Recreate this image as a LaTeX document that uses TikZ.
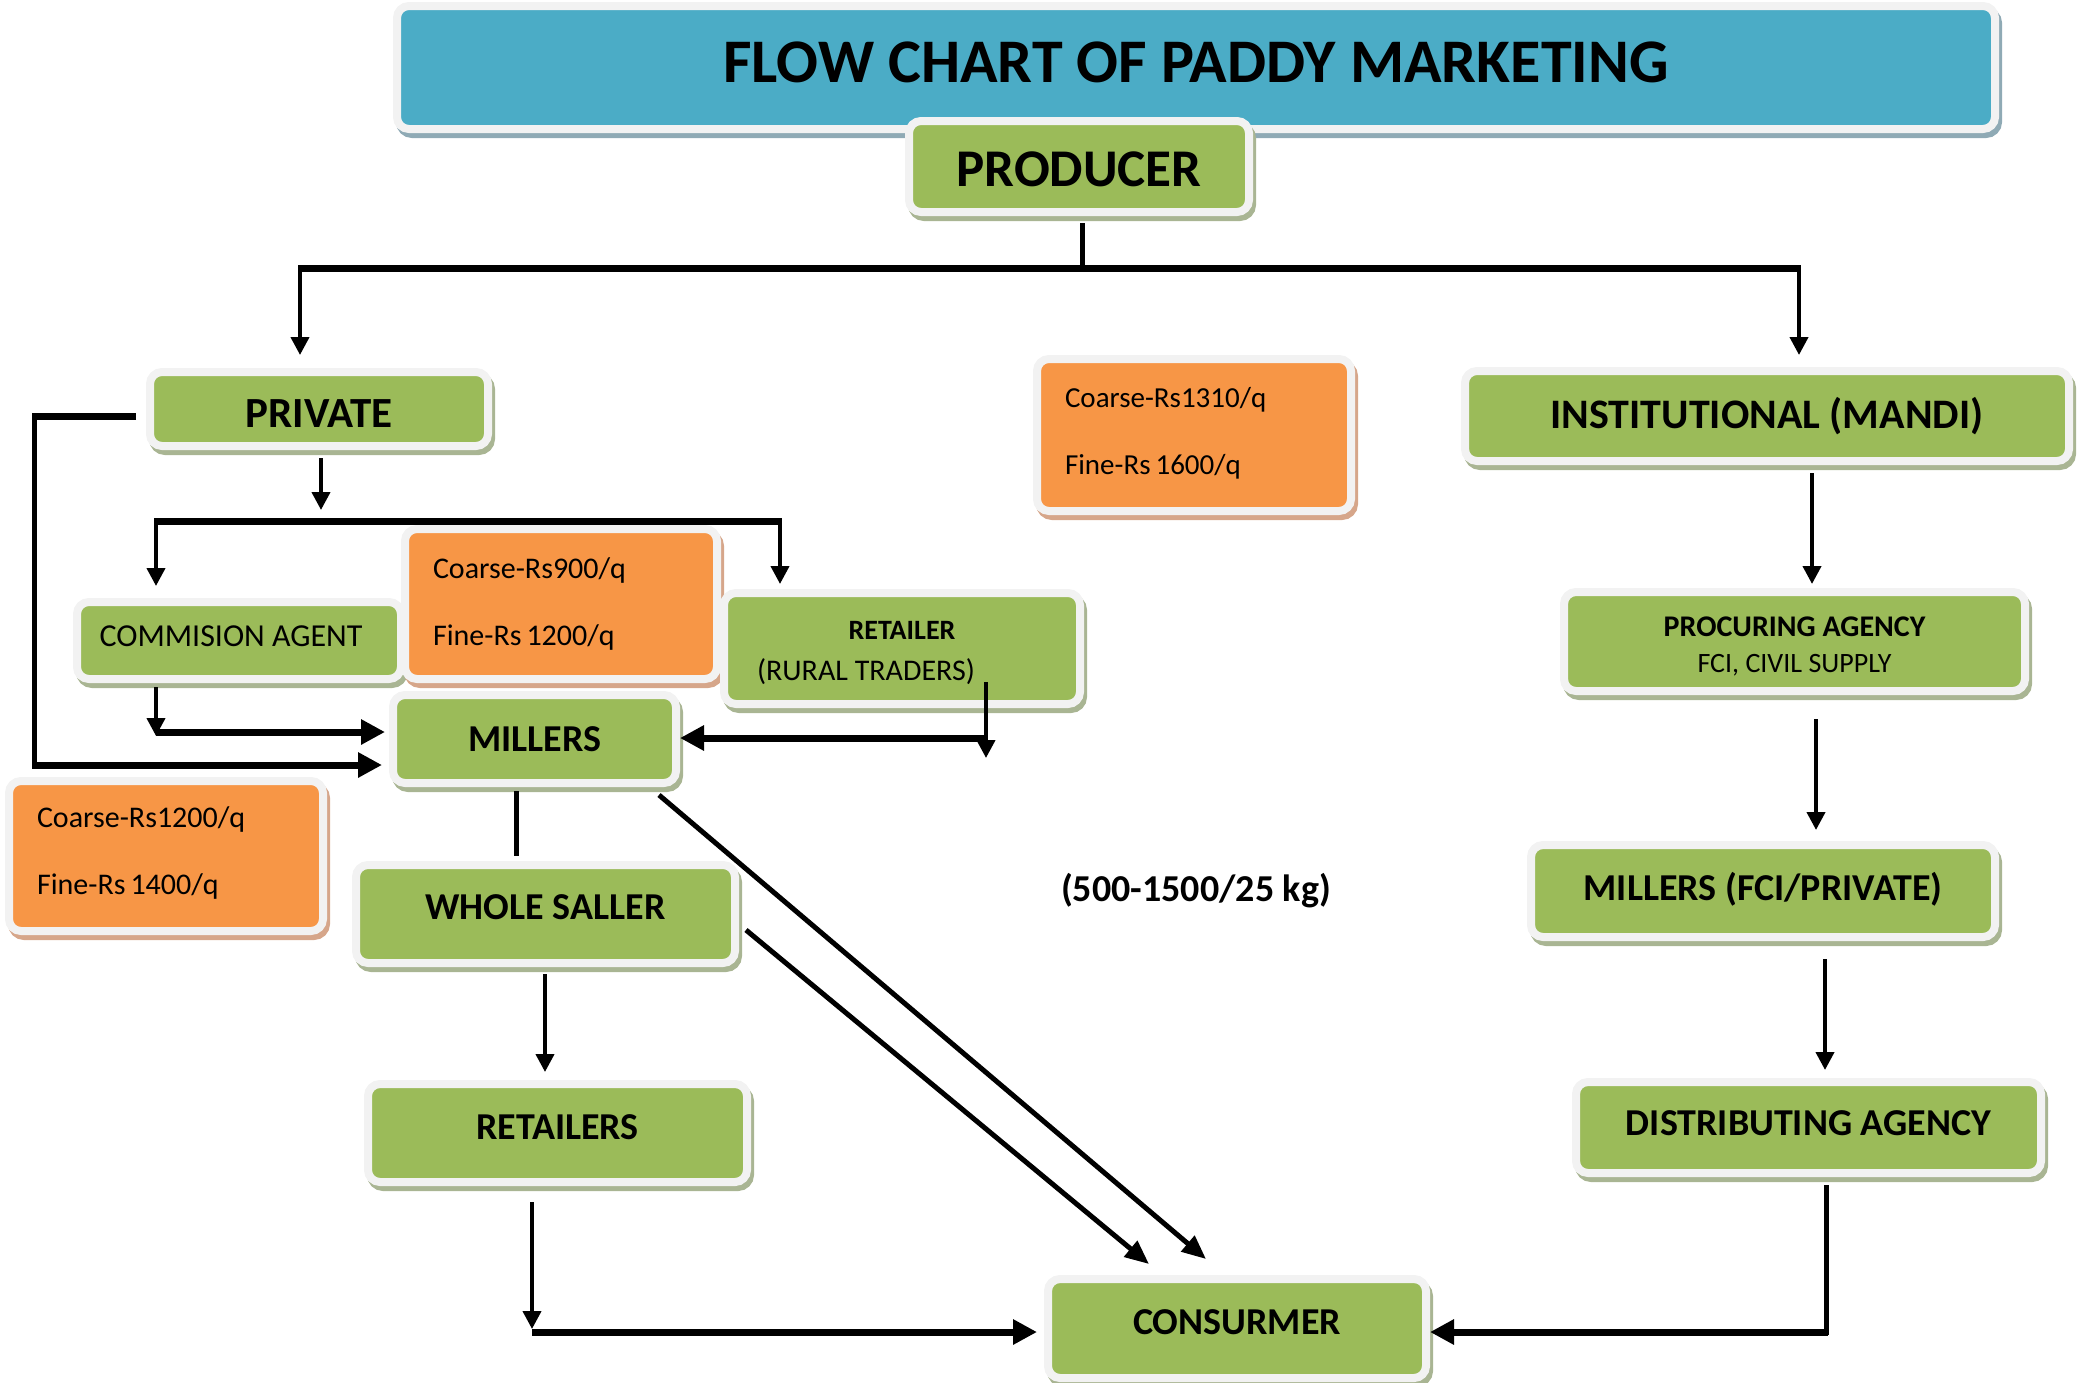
\documentclass[tikz,border=0pt]{standalone}
\usepackage{fontspec}
\setmainfont{Carlito}
\usetikzlibrary{arrows.meta,shadows}
\definecolor{gr}{HTML}{9BBB59}
\definecolor{grs}{HTML}{A9B593}
\definecolor{orr}{HTML}{F79646}
\definecolor{ors}{HTML}{D6A68A}
\definecolor{bl}{HTML}{4BACC6}
\definecolor{bls}{HTML}{8FAAB5}
\definecolor{wb}{HTML}{F2F2F2}
\newcommand\rbx[2]{\raisebox{#1}[\height][\depth]{#2}}
\begin{document}
\begin{tikzpicture}[x=1pt,y=-1pt,
  box/.style={rounded corners=12pt, draw=wb, line width=8pt, inner sep=0pt, align=center, text=black},
  shadowed/.style={general shadow={draw=#1, fill=#1, line width=8pt, shadow xshift=3pt, shadow yshift=-5pt}},
  gbox/.style={box, fill=gr, shadowed=grs},
  obox/.style={box, fill=orr, shadowed=ors, align=left},
  tbox/.style={box, fill=bl, shadowed=bls},
  fb/.style={font=\bfseries\fontsize{#1}{#1}\selectfont},
  fr/.style={font=\fontsize{#1}{67}\selectfont},
  lnw/.style={line width=4pt, draw=black},
  thickl/.style={line width=7pt, draw=black},
  arw/.style={-{Triangle[length=18pt,width=18pt]}},
  barw/.style={-{Triangle[length=24pt,width=24pt]}},
  darw/.style={-{Triangle[length=24pt,width=20pt]}}
]
\useasboundingbox (0,0) rectangle (2084,1382);

% boxes
\node[tbox, minimum width=1598pt, minimum height=123pt, fb=62] (title) at (1196,67.5) {\rbx{5pt}{FLOW CHART OF PADDY MARKETING}};
\node[gbox, minimum width=340pt, minimum height=91pt, fb=53] (producer) at (1079,166.5) {\rbx{-3pt}{PRODUCER}};
\node[gbox, minimum width=338pt, minimum height=74pt, fb=43] (private) at (319,409) {\rbx{-5pt}{PRIVATE}};
\node[obox, minimum width=314pt, minimum height=152pt, text width=258pt, fr=29] (price1310) at (1194,435) {\rbx{2pt}{Coarse-Rs1310/q}\\\rbx{2pt}{Fine-Rs\kern5pt1600/q}};
\node[gbox, minimum width=604pt, minimum height=90pt, fb=42] (institutional) at (1767,416) {INSTITUTIONAL (MANDI)};
\node[gbox, minimum width=324pt, minimum height=77pt, font=\fontsize{32}{32}\selectfont] (commission) at (239,640.5) {\rbx{4pt}{COMMISION AGENT}\hspace*{16pt}};
\node[obox, minimum width=312pt, minimum height=150pt, text width=256pt, fr=30] (price900) at (561,604) {Coarse-Rs900/q\\Fine-Rs\kern5pt1200/q};
\node[gbox, minimum width=356pt, minimum height=111pt, font=\fontsize{30}{40}\selectfont] (retailer) at (902,648.5)
  {{\bfseries\fontsize{28}{40}\selectfont \rbx{-4pt}{RETAILER}}\\\rbx{-5pt}{(RURAL TRADERS)}\hspace*{72pt}};
\node[gbox, minimum width=283pt, minimum height=88pt, fb=38] (millers) at (534.5,739) {MILLERS};
\node[gbox, minimum width=461pt, minimum height=99pt, font=\fontsize{28}{36}\selectfont] (procuring) at (1794.5,641.5)
  {{\bfseries\fontsize{30}{36}\selectfont \rbx{-5pt}{PROCURING AGENCY}}\\\rbx{-5pt}{FCI, CIVIL SUPPLY}};
\node[obox, minimum width=314pt, minimum height=150pt, text width=258pt, fr=30] (price1200) at (166,856) {\rbx{3pt}{Coarse-Rs1200/q}\\\rbx{3pt}{Fine-Rs\kern5pt1400/q}};
\node[gbox, minimum width=379pt, minimum height=98pt, fb=38] (wholesaler) at (545.5,914) {\rbx{7pt}{WHOLE SALLER}};
\node[gbox, minimum width=464pt, minimum height=92pt, fb=38] (millersfci) at (1763,891) {\rbx{2pt}{MILLERS (FCI/PRIVATE)}};
\node[gbox, minimum width=379pt, minimum height=98pt, fb=38] (retailers) at (557.5,1133) {\rbx{6pt}{RETAILERS}};
\node[gbox, minimum width=465pt, minimum height=91pt, fb=38] (distributing) at (1808.5,1127.5) {\rbx{4pt}{DISTRIBUTING AGENCY}};
\node[gbox, minimum width=378pt, minimum height=99pt, fb=38] (consumer) at (1237,1328.5) {\rbx{6pt}{CONSURMER}};
\node[fb=38, inner sep=0pt] (rate) at (1196,891) {(500-1500/25 kg)};

% top tree
\coordinate (j0) at (1082,268);
\coordinate (jl) at (300,268);
\coordinate (jr) at (1799,268);
\draw[lnw, line width=5pt, shorten <=7pt] (producer.south -| j0) -- (j0);
\draw[thickl] ([xshift=-2pt]jl) -- ([xshift=2pt]jr);
\draw[lnw, arw, shorten >=13pt] (jl) -- (jl |- private.north);
\draw[lnw, arw, shorten >=12pt] (jr) -- (jr |- institutional.north);

% private branch
\coordinate (j1) at (321,521);
\coordinate (j2l) at (156,521);
\coordinate (j2r) at (780,521);
\draw[lnw, arw, shorten <=8pt] (private.south -| j1) -- ([yshift=11pt]j1);
\draw[thickl] ([xshift=-2pt]j2l) -- ([xshift=2pt]j2r);
\draw[lnw, arw, shorten >=12pt] (j2l) -- (j2l |- commission.north);
\draw[lnw, arw, shorten >=5pt] (j2r) -- (j2r |- retailer.north);

% private loop to millers
\coordinate (pl1) at (34,416);
\coordinate (pl2) at (34,765);
\draw[thickl, shorten <=10pt] (private.west |- pl1) -- ([xshift=-2pt]pl1);
\draw[lnw, line width=5pt] ([yshift=3pt]pl1) -- ([yshift=-3pt]pl2);
\draw[thickl, barw, shorten >=7pt] ([xshift=-2pt]pl2) -- (pl2 -| millers.west);

% commission agent to millers
\coordinate (ca) at (156,732);
\draw[lnw, arw, shorten <=4pt] (commission.south -| ca) -- ([yshift=-4pt]ca);
\draw[thickl, barw, shorten >=4pt] (ca) -- (ca -| millers.west);

% retailer to millers
\coordinate (rt1) at (986,682);
\coordinate (rt2) at (986,758);
\coordinate (rt3) at (986,738);
\draw[lnw, arw] (rt1) -- (rt2);
\draw[thickl, barw] (rt3) -- (rt3 -| millers.east);

% millers to wholesaler
\coordinate (mw) at (516,820);
\draw[lnw, line width=5pt, shorten <=4pt, shorten >=5pt] (millers.south -| mw) -- (wholesaler.north -| mw);

% diagonals to consumer
\draw[lnw, line width=5pt, darw] ([xshift=-21pt,yshift=-8pt]millers.south east) -- ([xshift=-31pt,yshift=16pt]consumer.north);
\draw[lnw, line width=5pt, darw] ([xshift=7pt,yshift=-16pt]wholesaler.east) -- ([xshift=-88pt,yshift=11pt]consumer.north);

% wholesaler to retailers
\coordinate (wr) at (545,1020);
\draw[lnw, arw, shorten <=7pt, shorten >=8pt] (wholesaler.south -| wr) -- (retailers.north -| wr);

% retailers to consumer
\coordinate (rc) at (532,1332);
\draw[lnw, arw, shorten <=16pt] (retailers.south -| rc) -- ([yshift=3pt]rc);
\draw[thickl, barw, shorten >=7pt] (rc) -- (rc -| consumer.west);

% institutional chain
\coordinate (ip) at (1812,520);
\coordinate (pm) at (1816,770);
\coordinate (md) at (1825,1010);
\draw[lnw, arw, shorten <=8pt, shorten >=4pt] (institutional.south -| ip) -- (procuring.north -| ip);
\draw[lnw, arw, shorten <=24pt, shorten >=11pt] (procuring.south -| pm) -- (millersfci.north -| pm);
\draw[lnw, arw, shorten <=18pt, shorten >=8pt] (millersfci.south -| md) -- (distributing.north -| md);

% distributing to consumer
\coordinate (dc) at (1826,1332);
\draw[lnw, line width=5pt, shorten <=8pt] (distributing.south -| dc) -- ([yshift=-3pt]dc);
\draw[thickl, barw] ([xshift=2pt]dc) -- (dc -| consumer.east);
\end{tikzpicture}
\end{document}
